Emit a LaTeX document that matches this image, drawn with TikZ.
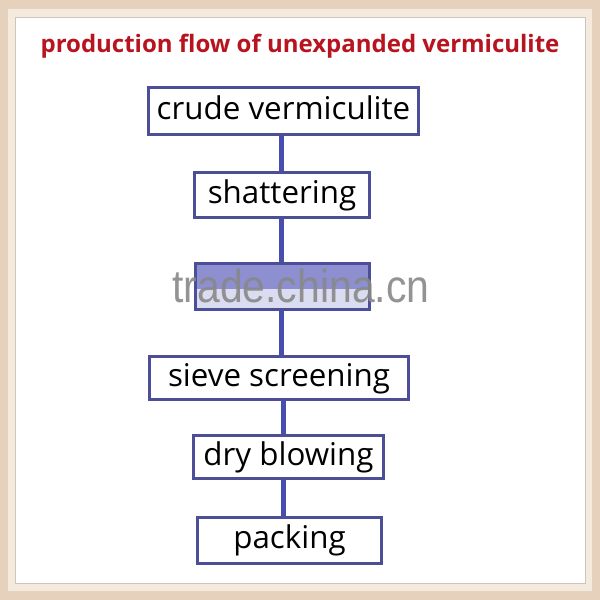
\documentclass[tikz,border=0pt]{standalone}
\usepackage{fontspec}
\usepackage{graphicx}
\setmainfont{Open Sans}
\newfontfamily\wmfont{Liberation Sans}
\definecolor{boxblue}{RGB}{76,79,152}
\definecolor{linkblue}{RGB}{72,78,176}
\definecolor{titlered}{RGB}{184,20,32}
\definecolor{frametan}{RGB}{230,210,188}
\definecolor{framelight}{RGB}{244,234,222}
\definecolor{paneledge}{RGB}{205,196,186}
\definecolor{wmgray}{RGB}{136,136,136}
\definecolor{bandmid}{RGB}{141,143,208}
\definecolor{bandlight}{RGB}{218,220,240}
\begin{document}
\begin{tikzpicture}[x=0.75pt,y=-0.75pt,
  stepbox/.style={draw=boxblue, line width=2.25pt, fill=white, inner sep=0pt,
    font=\fontsize{23.5}{28}\selectfont, text height=16.9pt, text depth=4.7pt},
  link/.style={draw=linkblue, line width=3.75pt},
  titletext/.style={font=\bfseries\fontsize{18}{21}\selectfont, text=titlered},
  wmtext/.style={text=wmgray, opacity=0.9, inner sep=0pt}]
\useasboundingbox (0,0) rectangle (600,600);
% frame
\fill[frametan] (0,0) rectangle (600,600);
\fill[framelight] (8,9) rectangle (592,591);
\draw[fill=white, draw=paneledge, line width=0.75pt] (15,17) rectangle (585,583);
% title
\node[titletext, anchor=base] (title) at (300,52) {production flow of unexpanded vermiculite};
% spine coordinates
\coordinate (sxa) at (281,0);
\coordinate (sxb) at (283,0);
% boxes
\node[stepbox, minimum width=202.5pt, minimum height=35.25pt] (crude) at (283.5,111) {crude vermiculite};
\node[stepbox, minimum width=131.25pt, minimum height=33.75pt] (shat) at (282,195) {shattering};
\fill[bandmid] (195,263) rectangle (370,289);
\fill[bandlight] (195,289) rectangle (370,310);
\node[stepbox, fill=none, minimum width=130.5pt, minimum height=34.5pt] (mid) at (282.5,286.5) {};
\node[stepbox, minimum width=194.25pt, minimum height=32.25pt] (sieve) at (279,378) {sieve screening};
\node[stepbox, minimum width=142.5pt, minimum height=32.25pt] (dry) at (288.5,457) {dry blowing};
\node[stepbox, minimum width=138pt, minimum height=34.5pt] (pack) at (289.5,540.5) {packing};
% connectors
\draw[link] (crude.south -| sxa) -- (shat.north -| sxa);
\draw[link] (shat.south -| sxa) -- (mid.north -| sxa);
\draw[link] (mid.south -| sxa) -- (sieve.north -| sxa);
\draw[link] (sieve.south -| sxb) -- (dry.north -| sxb);
\draw[link] (dry.south -| sxb) -- (pack.north -| sxb);
% watermark
\node[wmtext, anchor=base west] (wm) at (172,302) {\wmfont\fontsize{34.5}{40}\selectfont\scalebox{0.89}[1]{trade.china.cn}};
\end{tikzpicture}
\end{document}
